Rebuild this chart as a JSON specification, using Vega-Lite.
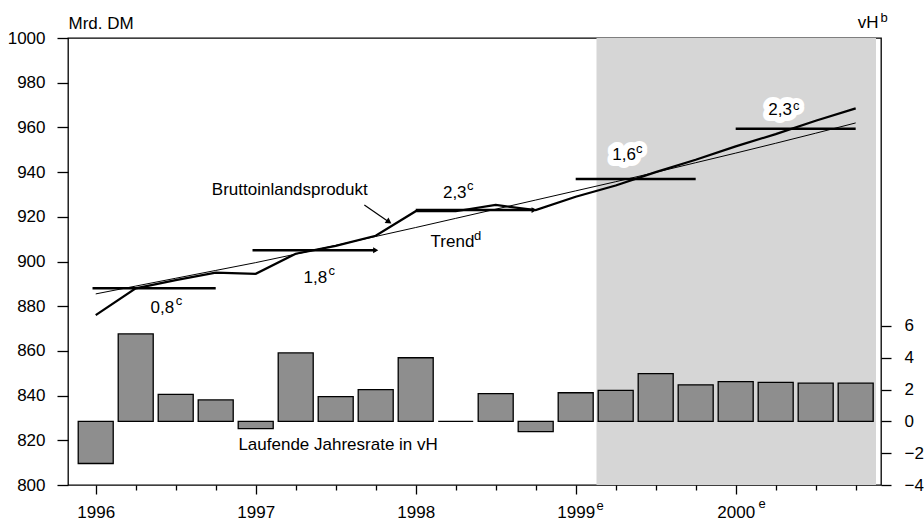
{
  "$schema": "https://vega.github.io/schema/vega-lite/v6.json",
  "width": 813,
  "height": 447,
  "autosize": {"type": "none"},
  "padding": {"left": 68, "top": 38, "right": 43, "bottom": 37},
  "background": "white",
  "config": {
    "view": {"stroke": "black", "strokeWidth": 1.3},
    "font": "Liberation Sans",
    "axis": {
      "grid": false,
      "domainColor": "black",
      "tickColor": "black",
      "labelColor": "black",
      "titleColor": "black",
      "labelFont": "Liberation Sans",
      "labelFontSize": 17,
      "titleFont": "Liberation Sans",
      "titleFontSize": 17,
      "titleFontWeight": "normal",
      "tickWidth": 1.3,
      "domainWidth": 1.3
    }
  },
  "datasets": {
    "series": [
      {"t": 1996.0, "gdp": 876, "trend": 885.5, "rate": -2.65},
      {"t": 1996.25, "gdp": 888, "trend": 889, "rate": 5.5},
      {"t": 1996.5, "gdp": 891.7, "trend": 892.5, "rate": 1.7},
      {"t": 1996.75, "gdp": 895, "trend": 896, "rate": 1.35},
      {"t": 1997.0, "gdp": 894.5, "trend": 899.5, "rate": -0.45},
      {"t": 1997.25, "gdp": 903.5, "trend": 903.3, "rate": 4.3},
      {"t": 1997.5, "gdp": 907, "trend": 907.2, "rate": 1.55},
      {"t": 1997.75, "gdp": 911.5, "trend": 911.2, "rate": 2.0},
      {"t": 1998.0, "gdp": 922.5, "trend": 915.2, "rate": 4.0},
      {"t": 1998.25, "gdp": 922.5, "trend": 919.3, "rate": 0},
      {"t": 1998.5, "gdp": 925.3, "trend": 923.4, "rate": 1.75},
      {"t": 1998.75, "gdp": 923, "trend": 927.5, "rate": -0.65},
      {"t": 1999.0, "gdp": 929, "trend": 931.6, "rate": 1.8},
      {"t": 1999.25, "gdp": 934, "trend": 935.7, "rate": 1.95},
      {"t": 1999.5, "gdp": 940, "trend": 939.9, "rate": 3.0},
      {"t": 1999.75, "gdp": 945.5, "trend": 944.2, "rate": 2.3},
      {"t": 2000.0, "gdp": 951.5, "trend": 948.5, "rate": 2.5},
      {"t": 2000.25, "gdp": 957, "trend": 952.9, "rate": 2.45},
      {"t": 2000.5, "gdp": 963, "trend": 957.4, "rate": 2.4},
      {"t": 2000.75, "gdp": 968.5, "trend": 962, "rate": 2.4}
    ],
    "annual": [
      {"start": 1995.98, "end": 1996.75, "avg": 888},
      {"start": 1996.98, "end": 1997.75, "avg": 905},
      {"start": 1998.0, "end": 1998.74, "avg": 923},
      {"start": 1999.0, "end": 1999.75, "avg": 936.9},
      {"start": 2000.0, "end": 2000.75, "avg": 959.4}
    ],
    "labels": [
      {"t": 1996.4167, "v": 877, "label": "0,8"},
      {"t": 1997.373, "v": 890.4, "label": "1,8"},
      {"t": 1998.244, "v": 928.4, "label": "2,3"},
      {"t": 1999.302, "v": 945.4, "label": "1,6"},
      {"t": 2000.278, "v": 965.5, "label": "2,3"},
      {"t": 1997.213, "v": 929.8, "label": "Bruttoinlandsprodukt"},
      {"t": 1998.23, "v": 906.5, "label": "Trend"},
      {"t": 1997.515, "v": 815.7, "label": "Laufende Jahresrate in vH"}
    ],
    "sups": [
      {"t": 1996.5, "v": 880.5, "sup": "c"},
      {"t": 1997.455, "v": 893.9, "sup": "c"},
      {"t": 1998.321, "v": 932, "sup": "c"},
      {"t": 1999.377, "v": 948.5, "sup": "c"},
      {"t": 2000.358, "v": 967.8, "sup": "c"},
      {"t": 1998.365, "v": 909.6, "sup": "d"},
      {"t": 1999.13, "v": 788.8, "sup": "e"},
      {"t": 2000.142, "v": 789.7, "sup": "e"},
      {"t": 2000.905, "v": 1007.2, "sup": "b"}
    ],
    "forecast": [{"start": 1999.13, "end": 2000.877, "lo": 800, "hi": 1000}],
    "pointer": [{"t0": 1997.679, "v0": 925.3, "t1": 1997.833, "v1": 917.7}],
    "heads": [
      {"t": 1997.833, "v": 917.7, "kind": "pointer"},
      {"t": 1997.75, "v": 905, "kind": "segment"},
      {"t": 1998.74, "v": 923, "kind": "segment"}
    ]
  },
  "layer": [
    {
      "layer": [
        {
          "data": {"name": "forecast"},
          "mark": {"type": "rect", "fill": "#d6d6d6"},
          "encoding": {
            "x": {
              "field": "start",
              "type": "quantitative",
              "scale": {"domain": [1995.858, 2000.877], "nice": false, "zero": false},
              "axis": {
                "title": null,
                "values": [1996, 1996.25, 1996.5, 1996.75, 1997, 1997.25, 1997.5, 1997.75, 1998, 1998.25, 1998.5, 1998.75, 1999, 1999.25, 1999.5, 1999.75, 2000, 2000.25, 2000.5, 2000.75],
                "labelExpr": "datum.value % 1 === 0 ? '' + datum.value : ''",
                "tickSize": {"condition": {"test": "datum.value % 1 === 0", "value": 9}, "value": 5},
                "labelPadding": 10,
                "labelFlush": false,
                "labelOverlap": false,
                "domain": false
              }
            },
            "x2": {"field": "end"},
            "y": {
              "field": "lo",
              "type": "quantitative",
              "scale": {"domain": [800, 1000], "nice": false, "zero": false},
              "axis": {
                "title": "Mrd. DM",
                "format": "d",
                "values": [800, 820, 840, 860, 880, 900, 920, 940, 960, 980, 1000],
                "titleAngle": 0,
                "titleX": 0,
                "titleY": -10,
                "titleAlign": "left",
                "titleBaseline": "alphabetic",
                "tickSize": 11,
                "labelPadding": 12,
                "labelFlush": false,
                "domain": false
              }
            },
            "y2": {"field": "hi"}
          }
        },
        {
          "data": {"name": "labels"},
          "mark": {"type": "text", "align": "center", "baseline": "alphabetic", "font": "Liberation Sans", "fontSize": 17, "fill": "white", "stroke": "white", "strokeWidth": 12, "strokeJoin": "round"},
          "encoding": {
            "x": {"field": "t", "type": "quantitative"},
            "y": {"field": "v", "type": "quantitative"},
            "text": {"field": "label"}
          }
        },
        {
          "data": {"name": "sups"},
          "transform": [{"filter": "datum.v > 800 && datum.v < 1000"}],
          "mark": {"type": "text", "align": "left", "baseline": "alphabetic", "font": "Liberation Sans", "fontSize": 13, "fill": "white", "stroke": "white", "strokeWidth": 10, "strokeJoin": "round"},
          "encoding": {
            "x": {"field": "t", "type": "quantitative"},
            "y": {"field": "v", "type": "quantitative"},
            "text": {"field": "sup"}
          }
        }
      ]
    },
    {
      "layer": [
        {
          "data": {"name": "series"},
          "mark": {"type": "bar", "width": 35, "fill": "#8e8e8e", "stroke": "black", "strokeWidth": 1.3},
          "encoding": {
            "x": {"field": "t", "type": "quantitative"},
            "y": {
              "field": "rate",
              "type": "quantitative",
              "scale": {"domain": [-4, 24.1], "nice": false, "zero": false},
              "axis": {
                "orient": "right",
                "title": "vH",
                "values": [-4, -2, 0, 2, 4, 6],
                "titleAngle": 0,
                "titleX": -3,
                "titleY": -11,
                "titleAlign": "right",
                "titleBaseline": "alphabetic",
                "tickSize": 10,
                "labelPadding": 13,
                "labelAlign": "left",
                "labelFlush": false,
                "domain": false
              }
            },
            "y2": {"datum": 0}
          }
        },
        {
          "mark": {"type": "rule", "stroke": "black", "strokeWidth": 1.5},
          "encoding": {
            "y": {"datum": 0, "type": "quantitative"}
          }
        }
      ]
    },
    {
      "layer": [
        {
          "data": {"name": "series"},
          "mark": {"type": "line", "stroke": "black", "strokeWidth": 1},
          "encoding": {
            "x": {"field": "t", "type": "quantitative"},
            "y": {"field": "trend", "type": "quantitative", "scale": {"domain": [800, 1000], "nice": false, "zero": false}, "axis": null}
          }
        },
        {
          "data": {"name": "series"},
          "mark": {"type": "line", "stroke": "black", "strokeWidth": 2.2},
          "encoding": {
            "x": {"field": "t", "type": "quantitative"},
            "y": {"field": "gdp", "type": "quantitative", "axis": null}
          }
        },
        {
          "data": {"name": "annual"},
          "mark": {"type": "rule", "stroke": "black", "strokeWidth": 2.5},
          "encoding": {
            "x": {"field": "start", "type": "quantitative"},
            "x2": {"field": "end"},
            "y": {"field": "avg", "type": "quantitative", "axis": null}
          }
        },
        {
          "data": {"name": "pointer"},
          "mark": {"type": "rule", "stroke": "black", "strokeWidth": 1.2},
          "encoding": {
            "x": {"field": "t0", "type": "quantitative"},
            "x2": {"field": "t1"},
            "y": {"field": "v0", "type": "quantitative", "axis": null},
            "y2": {"field": "v1"}
          }
        },
        {
          "data": {"name": "heads"},
          "transform": [{"filter": "datum.kind === 'pointer'"}],
          "mark": {"type": "point", "shape": "triangle-right", "filled": true, "fill": "black", "size": 45, "angle": 34, "opacity": 1},
          "encoding": {
            "x": {"field": "t", "type": "quantitative"},
            "y": {"field": "v", "type": "quantitative", "axis": null}
          }
        },
        {
          "data": {"name": "heads"},
          "transform": [{"filter": "datum.kind === 'segment'"}],
          "mark": {"type": "point", "shape": "triangle-right", "filled": true, "fill": "black", "size": 35, "opacity": 1},
          "encoding": {
            "x": {"field": "t", "type": "quantitative"},
            "y": {"field": "v", "type": "quantitative", "axis": null}
          }
        },
        {
          "data": {"name": "labels"},
          "mark": {"type": "text", "align": "center", "baseline": "alphabetic", "font": "Liberation Sans", "fontSize": 17, "fill": "black"},
          "encoding": {
            "x": {"field": "t", "type": "quantitative"},
            "y": {"field": "v", "type": "quantitative", "axis": null},
            "text": {"field": "label"}
          }
        },
        {
          "data": {"name": "sups"},
          "mark": {"type": "text", "align": "left", "baseline": "alphabetic", "font": "Liberation Sans", "fontSize": 13, "fill": "black"},
          "encoding": {
            "x": {"field": "t", "type": "quantitative"},
            "y": {"field": "v", "type": "quantitative", "axis": null},
            "text": {"field": "sup"}
          }
        }
      ]
    }
  ],
  "resolve": {"scale": {"y": "independent"}, "axis": {"y": "independent"}}
}
